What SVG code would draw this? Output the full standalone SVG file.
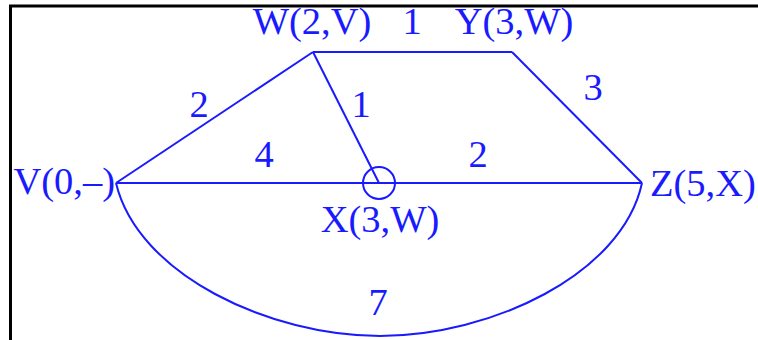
<svg xmlns="http://www.w3.org/2000/svg" width="758" height="340" viewBox="0 0 758 340">
<style>
  text { font-family: "Liberation Serif", "Times New Roman", serif; font-size: 38.5px; fill: #1a1aff; }
  .edge { fill: none; stroke: #1a1aff; stroke-width: 2; }
  .frame { fill: none; stroke: #000; stroke-width: 3; }
</style>
<rect width="758" height="340" fill="#fff"/>
<g id="frame">
  <line class="frame" x1="9" y1="6" x2="758" y2="6"/>
  <line class="frame" x1="10.5" y1="5" x2="10.5" y2="340"/>
</g>
<g id="connectors">
  <line class="edge" x1="116" y1="183" x2="313" y2="52"/>
  <line class="edge" x1="313" y1="52" x2="512" y2="52"/>
  <line class="edge" x1="512" y1="52" x2="642" y2="183"/>
  <line class="edge" x1="313" y1="52" x2="379" y2="183"/>
  <line class="edge" x1="116" y1="183" x2="642" y2="183"/>
  <path class="edge" d="M116,183 C138,275 270,336 380,336 C490,336 622,275 642,183"/>
  <text x="199" y="117" text-anchor="middle">2</text>
  <text x="412" y="34" text-anchor="middle">1</text>
  <text x="593" y="100" text-anchor="middle">3</text>
  <text x="361" y="117" text-anchor="middle">1</text>
  <text x="264" y="167" text-anchor="middle">4</text>
  <text x="478" y="167" text-anchor="middle">2</text>
  <text x="378" y="315" text-anchor="middle">7</text>
</g>
<g id="V"><text x="115" y="194" text-anchor="end">V(0,–)</text></g>
<g id="W"><text x="312" y="34" text-anchor="middle">W(2,V)</text></g>
<g id="Y"><text x="514" y="34" text-anchor="middle">Y(3,W)</text></g>
<g id="X"><circle class="edge" cx="379" cy="183" r="16"/><text x="380" y="232" text-anchor="middle">X(3,W)</text></g>
<g id="Z"><text x="650" y="196">Z(5,X)</text></g>
</svg>
